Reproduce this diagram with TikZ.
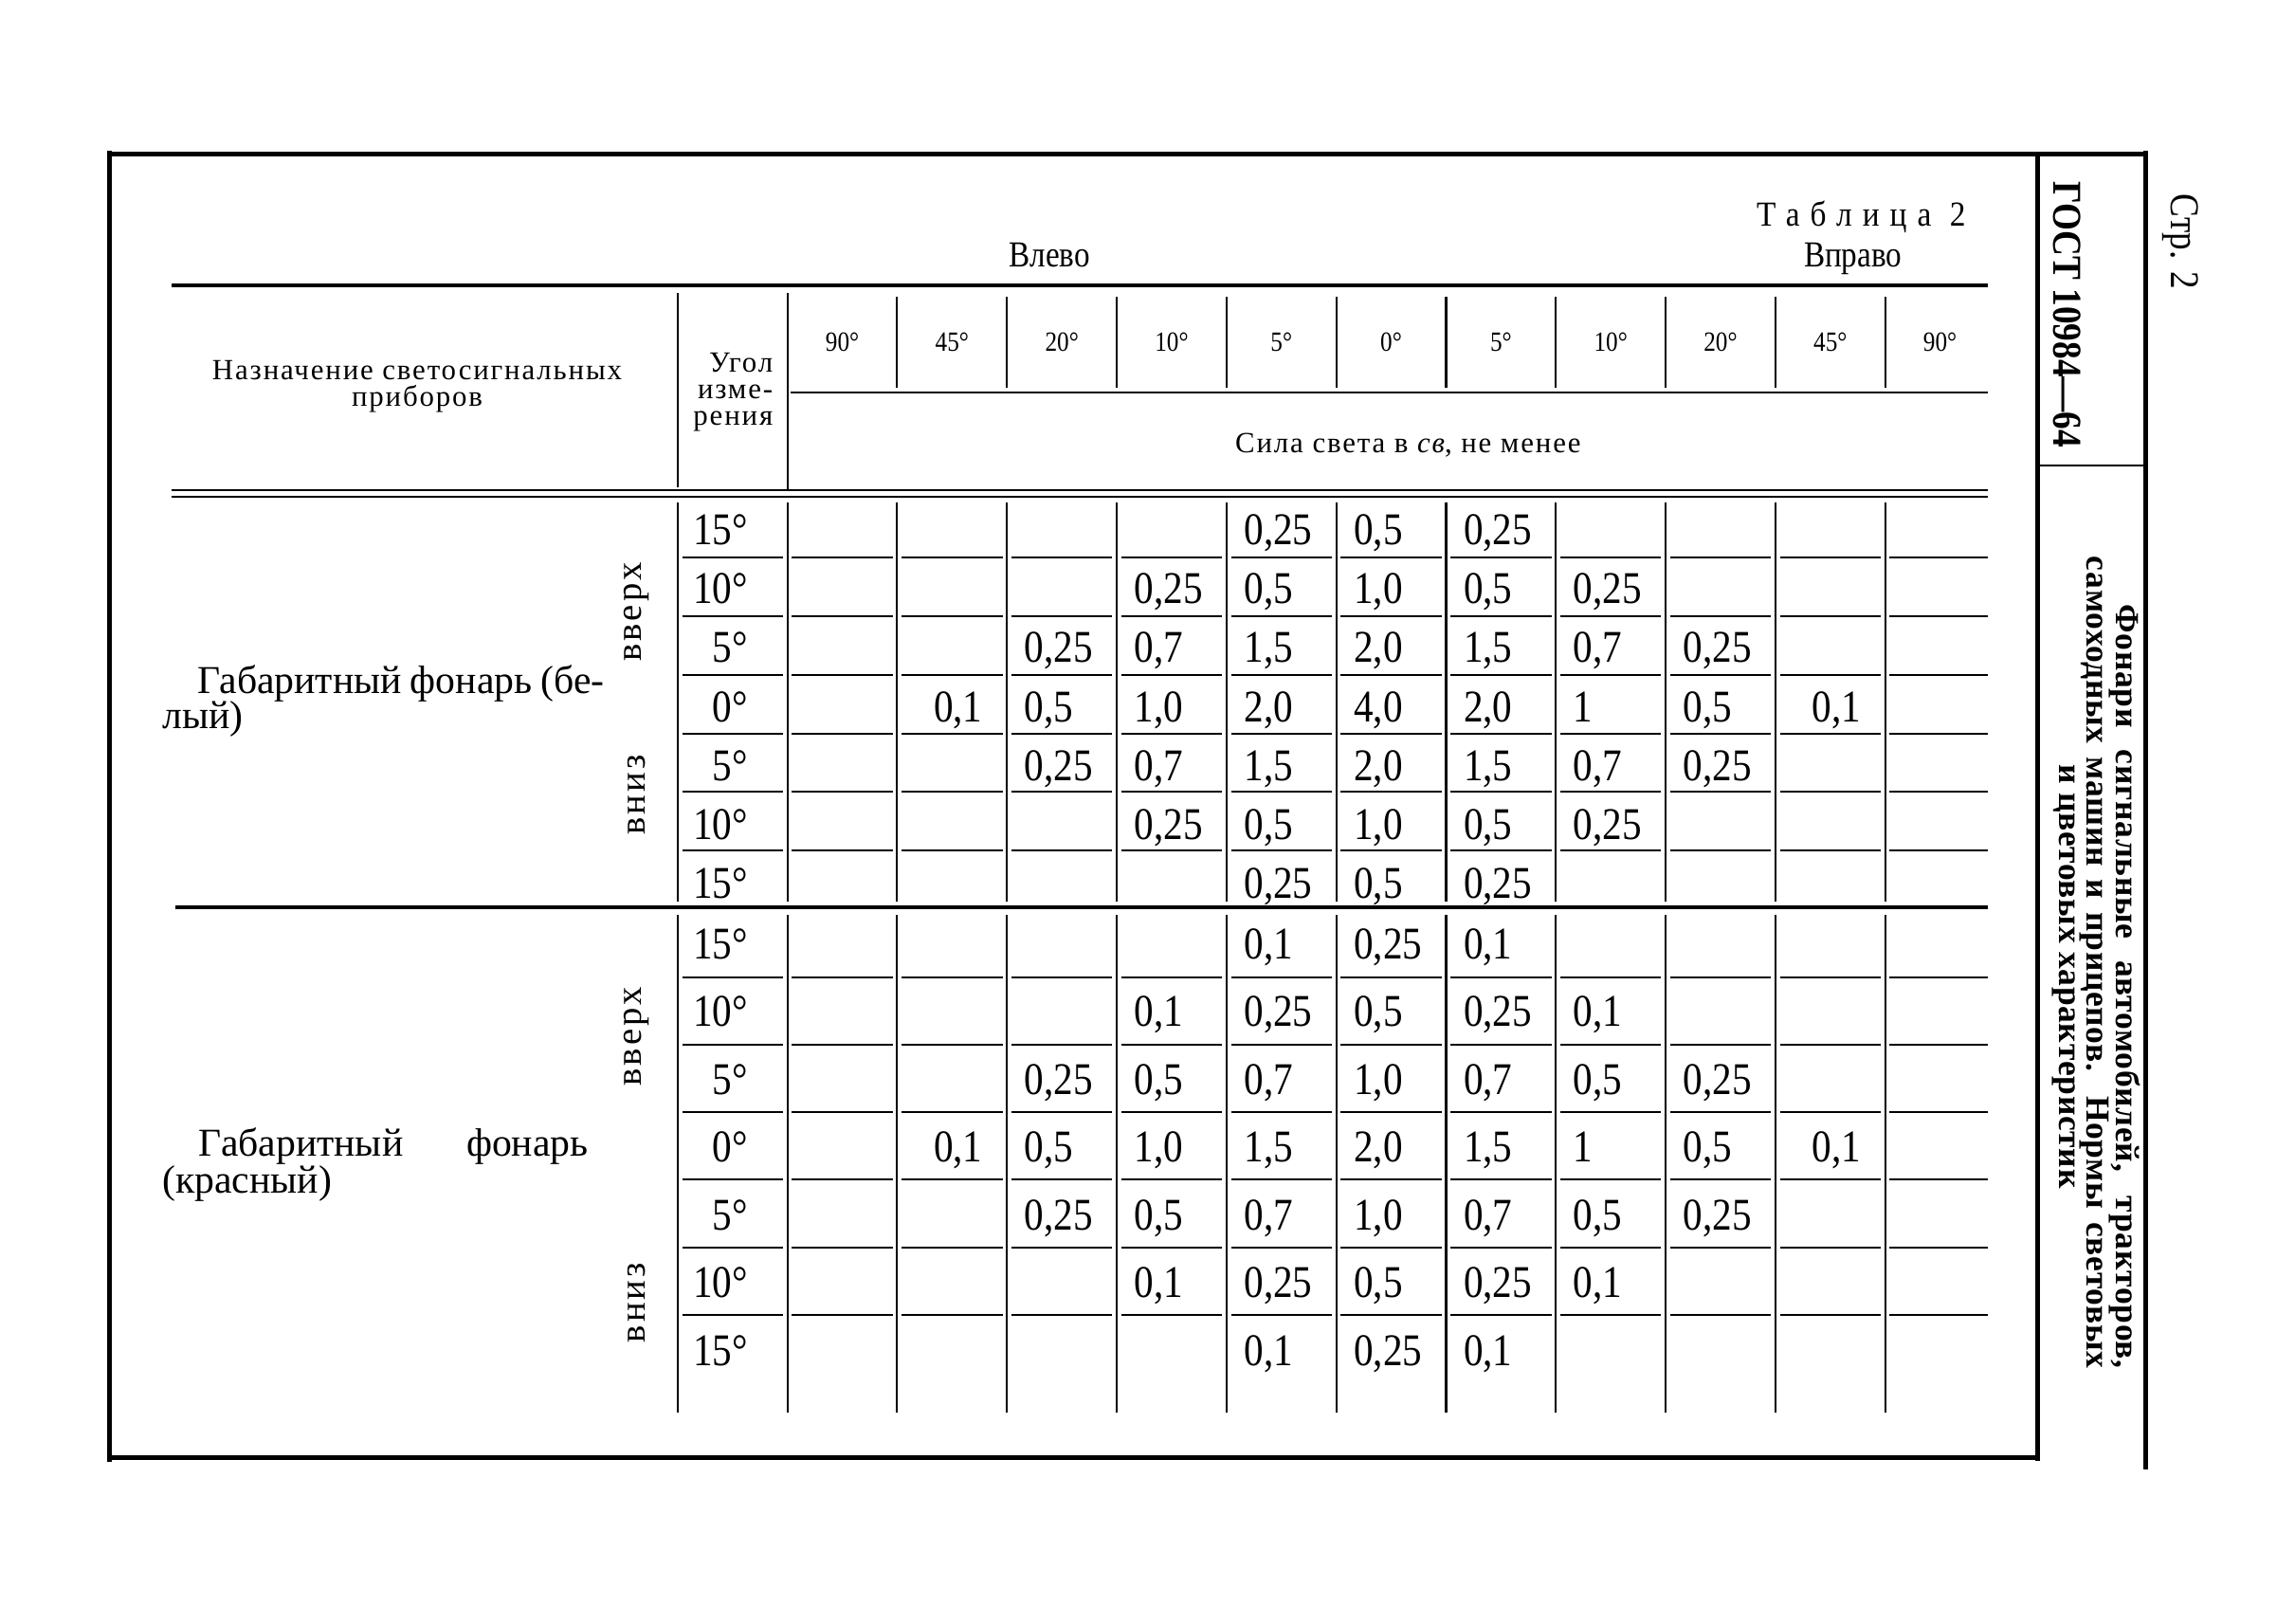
\documentclass[tikz,border=0pt]{standalone}
\usepackage{fontspec}
\setmainfont{Liberation Serif}[FakeStretch=0.86]
\newfontfamily\plainfont{Liberation Serif}
\newfontfamily\hdrfont{Liberation Serif}[LetterSpace=6]
\newfontfamily\spacedfont{Liberation Serif}[LetterSpace=30,FakeStretch=0.9]
\newfontfamily\vertfont{Liberation Serif}[LetterSpace=8]
\newfontfamily\sidefont{Liberation Serif}[LetterSpace=2]
\begin{document}
\begin{tikzpicture}[x=1pt,y=-1pt,
  txt/.style={inner sep=0pt, outer sep=0pt},
  val/.style={txt, font=\fontsize{31}{31}\selectfont},
  hdr/.style={txt, font=\fontsize{19}{18}\selectfont},
  hdrw/.style={txt, font=\fontsize{20}{18}\hdrfont},
  lbl/.style={txt, anchor=base west, font=\fontsize{27}{27}\plainfont},
  side/.style={txt, rotate=-90, font=\fontsize{23}{23}\sidefont\bfseries},
  vert/.style={txt, rotate=90, font=\fontsize{25}{25}\vertfont},
  frame/.style={line width=3.2pt},
  rule/.style={line width=2.6pt},
  thin/.style={line width=1.3pt}]
\useasboundingbox (0,0) rectangle (1568,1109);

% outer frame
\draw[frame] (75,103) -- (75,999);
\draw[frame] (73,105) -- (1467,105);
\draw[frame] (73,996) -- (1393,996);
\draw[frame] (1392,106) -- (1392,998);
\draw[frame] (1466,103) -- (1466,1004);
\draw[thin] (1392,318) -- (1466,318);

% side texts
\node[txt, rotate=-90, font=\fontsize{28}{28}\selectfont\bfseries] (gost) at (1412,215) {ГОСТ 10984—64};
\node[txt, rotate=-90, font=\fontsize{28}{28}\selectfont] (page) at (1490,165) {Стр. 2};
\node[side, anchor=west] (t1) at (1452,413) {\makebox[522pt][s]{Фонари сигнальные автомобилей, тракторов,}};
\node[side, anchor=west] (t2) at (1431,380) {\makebox[555pt][s]{самоходных машин и прицепов. Нормы световых}};
\node[side] (t3) at (1410,667) {и цветовых характеристик};

% captions
\node[txt, anchor=east, font=\fontsize{24}{24}\spacedfont] (tab) at (1343,148) {Таблица 2};
\node[txt, font=\fontsize{25}{25}\selectfont] (left) at (717,174) {Влево};
\node[txt, font=\fontsize{25}{25}\selectfont] (right) at (1266,177) {Вправо};

% header rules
\draw[rule] (117,195) -- (1358,195);
\draw[thin] (463,200) -- (463,333);
\draw[thin] (538,200) -- (538,335);
\foreach \i in {1,...,10} \draw[thin] (538+75*\i,203) -- (538+75*\i,265);
\draw[thin] (540,268) -- (1358,268);
\draw[line width=1.4pt] (117,335) -- (1358,335);
\draw[line width=1.4pt] (117,339.5) -- (1358,339.5);

% header texts
\node[hdrw, align=center] (purpose) at (285,264) {Назначение светосигнальных\\приборов};
\node[hdrw, align=right, anchor=east] (angle) at (528,268) {Угол\\изме-\\рения};
\node[hdrw] (force) at (962,304) {Сила света в \textit{св}, не менее};
\foreach \a [count=\i from 0] in {90,45,20,10,5,0,5,10,20,45,90}
  \node[hdr] (h-\i) at (575.5+75*\i,234) {\a°};

% section separator
\draw[rule] (120,620) -- (1358,620);

% vertical lines of body
\foreach \i in {0,...,11} {
  \draw[thin] (463+75*\i,343) -- (463+75*\i,616);
  \draw[thin] (463+75*\i,625) -- (463+75*\i,965);
}
% horizontal cell lines
\foreach \k in {0,...,5} {
  \foreach \i in {0,...,10}
    \draw[thin] (466+75*\i,381+40*\k) -- (535+75*\i,381+40*\k);
  \draw[thin] (1291,381+40*\k) -- (1358,381+40*\k);
  \foreach \i in {0,...,10}
    \draw[thin] (466+75*\i,668+46*\k) -- (535+75*\i,668+46*\k);
  \draw[thin] (1291,668+46*\k) -- (1358,668+46*\k);
}

% angle labels in body
\foreach \a [count=\r from 0] in {15,10,5,0,5,10,15} {
  \node[val, anchor=base east] (a1-\r) at (511,372+40.3*\r) {\a°};
  \node[val, anchor=base east] (a2-\r) at (511,655+46.3*\r) {\a°};
}

% vertical labels
\node[vert] (up1) at (435,418) {вверх};
\node[vert] (dn1) at (435,543) {вниз};
\node[vert] (up2) at (435,708) {вверх};
\node[vert] (dn2) at (435,890) {вниз};

% row group labels
\node[lbl] (w1) at (135,474) {\makebox[278pt][s]{Габаритный фонарь (бе-}};
\node[lbl] (w2) at (111,498) {лый)};
\node[lbl] (r1) at (136,790) {\makebox[266pt][s]{Габаритный\hfill фонарь}};
\node[lbl] (r2) at (111,815) {(красный)};

% values, section 1 (white)
\foreach \r/\c/\v in {
  0/5/0{,}25, 0/6/0{,}5, 0/7/0{,}25,
  1/4/0{,}25, 1/5/0{,}5, 1/6/1{,}0, 1/7/0{,}5, 1/8/0{,}25,
  2/3/0{,}25, 2/4/0{,}7, 2/5/1{,}5, 2/6/2{,}0, 2/7/1{,}5, 2/8/0{,}7, 2/9/0{,}25,
  3/2/0{,}1, 3/3/0{,}5, 3/4/1{,}0, 3/5/2{,}0, 3/6/4{,}0, 3/7/2{,}0, 3/8/1, 3/9/0{,}5, 3/10/0{,}1,
  4/3/0{,}25, 4/4/0{,}7, 4/5/1{,}5, 4/6/2{,}0, 4/7/1{,}5, 4/8/0{,}7, 4/9/0{,}25,
  5/4/0{,}25, 5/5/0{,}5, 5/6/1{,}0, 5/7/0{,}5, 5/8/0{,}25,
  6/5/0{,}25, 6/6/0{,}5, 6/7/0{,}25} {
  \pgfmathsetmacro\xx{538+75*(\c-1)+12+13*(\c==2)+13*(\c==10)}
  \node[val, anchor=base west] (v1-\r-\c) at (\xx,372+40.3*\r) {\v};
}
% values, section 2 (red)
\foreach \r/\c/\v in {
  0/5/0{,}1, 0/6/0{,}25, 0/7/0{,}1,
  1/4/0{,}1, 1/5/0{,}25, 1/6/0{,}5, 1/7/0{,}25, 1/8/0{,}1,
  2/3/0{,}25, 2/4/0{,}5, 2/5/0{,}7, 2/6/1{,}0, 2/7/0{,}7, 2/8/0{,}5, 2/9/0{,}25,
  3/2/0{,}1, 3/3/0{,}5, 3/4/1{,}0, 3/5/1{,}5, 3/6/2{,}0, 3/7/1{,}5, 3/8/1, 3/9/0{,}5, 3/10/0{,}1,
  4/3/0{,}25, 4/4/0{,}5, 4/5/0{,}7, 4/6/1{,}0, 4/7/0{,}7, 4/8/0{,}5, 4/9/0{,}25,
  5/4/0{,}1, 5/5/0{,}25, 5/6/0{,}5, 5/7/0{,}25, 5/8/0{,}1,
  6/5/0{,}1, 6/6/0{,}25, 6/7/0{,}1} {
  \pgfmathsetmacro\xx{538+75*(\c-1)+12+13*(\c==2)+13*(\c==10)}
  \node[val, anchor=base west] (v2-\r-\c) at (\xx,655+46.3*\r) {\v};
}
\end{tikzpicture}
\end{document}
